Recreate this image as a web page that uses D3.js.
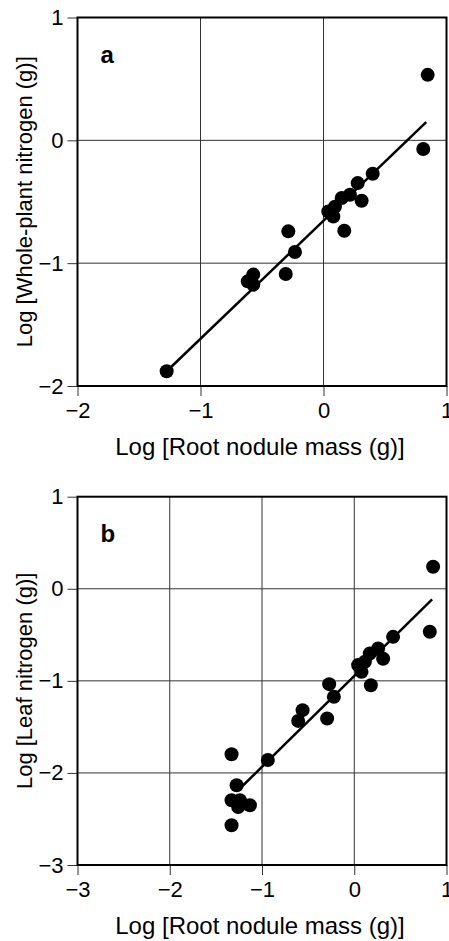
<!DOCTYPE html>
<html>
<head>
<meta charset="utf-8">
<script src="https://cdn.jsdelivr.net/npm/d3@7"></script>
<style>
  body { margin: 0; background: #fff; }
  svg { display: block; font-family: "Liberation Sans", Arial, sans-serif; }
</style>
</head>
<body>
<div id="chart"></div>
<script>
// Panel a: whole-plant nitrogen vs root nodule mass (log10)
const nodMassA = [0.847, 0.811, 0.40, 0.278, 0.215, 0.148, 0.31, 0.093, 0.039, 0.08, 0.169,
                  -0.286, -0.232, -0.307, -0.571, -0.616, -0.571, -1.275];
const wholeN = [0.533, -0.07, -0.272, -0.348, -0.443, -0.47, -0.492, -0.541, -0.579, -0.62, -0.736,
                -0.741, -0.909, -1.088, -1.093, -1.148, -1.175, -1.88];
const fitAx = [-1.275, 0.835];
const fitAy = [-1.88, 0.148];

// Panel b: leaf nitrogen vs root nodule mass (log10)
const nodMassB = [0.855, 0.819, 0.421, 0.259, 0.169, 0.313, 0.115, 0.042, 0.079, 0.18,
                  -0.272, -0.221, -0.294, -0.56, -0.608, -1.33, -0.937,
                  -1.275, -1.33, -1.24, -1.258, -1.131, -1.33];
const leafN = [0.239, -0.467, -0.522, -0.648, -0.702, -0.76, -0.793, -0.829, -0.902, -1.047,
               -1.036, -1.174, -1.409, -1.318, -1.435, -1.797, -1.86,
               -2.134, -2.297, -2.297, -2.37, -2.351, -2.568];
const fitBx = [-1.22, 0.844];
const fitBy = [-2.15, -0.115];

// Ticks
const ticksAx = [-2, -1, 0, 1];
const ticksAy = [-2, -1, 0, 1];
const ticksBx = [-3, -2, -1, 0, 1];
const ticksBy = [-3, -2, -1, 0, 1];

const xTitle = "Log [Root nodule mass (g)]";

const width = 449, height = 941;

const svg = d3.select("#chart").append("svg")
    .attr("width", width)
    .attr("height", height);

drawPanel({
  top: 17.5, bottom: 386, left: 77.5, right: 446.5,
  xDomain: [-2, 1], yDomain: [-2, 1],
  xTicks: ticksAx, yTicks: ticksAy,
  xs: nodMassA, ys: wholeN, fitX: fitAx, fitY: fitAy,
  letter: "a", yTitle: "Log [Whole-plant nitrogen (g)]"
});

drawPanel({
  top: 496.7, bottom: 865, left: 77.5, right: 446.5,
  xDomain: [-3, 1], yDomain: [-3, 1],
  xTicks: ticksBx, yTicks: ticksBy,
  xs: nodMassB, ys: leafN, fitX: fitBx, fitY: fitBy,
  letter: "b", yTitle: "Log [Leaf nitrogen (g)]"
});

function drawPanel(p) {
  const x = d3.scaleLinear().domain(p.xDomain).range([p.left, p.right]);
  const y = d3.scaleLinear().domain(p.yDomain).range([p.bottom, p.top]);

  const g = svg.append("g");

  // Grid lines (inner ticks only)
  const inner = (ticks, dom) => ticks.filter(t => t > dom[0] && t < dom[1]);
  g.append("g").selectAll("line")
      .data(inner(p.xTicks, p.xDomain))
    .enter().append("line")
      .attr("x1", d => x(d)).attr("x2", d => x(d))
      .attr("y1", p.top).attr("y2", p.bottom)
      .style("stroke", "#333").style("stroke-width", 1);
  g.append("g").selectAll("line")
      .data(inner(p.yTicks, p.yDomain))
    .enter().append("line")
      .attr("y1", d => y(d)).attr("y2", d => y(d))
      .attr("x1", p.left).attr("x2", p.right)
      .style("stroke", "#333").style("stroke-width", 1);

  // Axes
  const fmt = d => d < 0 ? "\u2212" + Math.abs(d) : d;
  const xAxis = d3.axisBottom(x).tickValues(p.xTicks).tickSize(10).tickPadding(6).tickFormat(fmt);
  const yAxis = d3.axisLeft(y).tickValues(p.yTicks).tickSize(10).tickPadding(4).tickFormat(fmt);

  const gx = g.append("g")
      .attr("transform", "translate(0," + p.bottom + ")")
      .call(xAxis);
  const gy = g.append("g")
      .attr("transform", "translate(" + p.left + ",0)")
      .call(yAxis);

  [gx, gy].forEach(a => {
    a.select(".domain").remove();
    a.selectAll(".tick line").style("stroke", "#333").style("stroke-width", 1);
    a.selectAll(".tick text")
        .style("font-family", "Liberation Sans, Arial, sans-serif")
        .style("font-size", "22px")
        .style("fill", "#000");
  });

  // Frame
  g.append("rect")
      .attr("x", p.left).attr("y", p.top)
      .attr("width", p.right - p.left).attr("height", p.bottom - p.top)
      .style("fill", "none").style("stroke", "#000").style("stroke-width", 2);

  // Fit line
  g.append("line")
      .attr("x1", x(p.fitX[0])).attr("y1", y(p.fitY[0]))
      .attr("x2", x(p.fitX[1])).attr("y2", y(p.fitY[1]))
      .style("stroke", "#000").style("stroke-width", 2.5);

  // Points
  g.append("g").selectAll("circle")
      .data(p.xs.map((v, i) => [v, p.ys[i]]))
    .enter().append("circle")
      .attr("cx", d => x(d[0]))
      .attr("cy", d => y(d[1]))
      .attr("r", 7)
      .style("fill", "#000");

  // Panel letter
  g.append("text")
      .attr("x", p.left + 23).attr("y", p.top + 45)
      .style("font-weight", "bold").style("font-size", "24px")
      .text(p.letter);

  // Axis titles
  g.append("text")
      .attr("x", (p.left + p.right) / 2 - 2).attr("y", p.bottom + 69)
      .attr("text-anchor", "middle")
      .style("font-size", "24px")
      .text(xTitle);

  g.append("text")
      .attr("transform", "translate(32," + ((p.top + p.bottom) / 2) + ") rotate(-90)")
      .attr("text-anchor", "middle")
      .style("font-size", "22px")
      .text(p.yTitle);
}
</script>
</body>
</html>
